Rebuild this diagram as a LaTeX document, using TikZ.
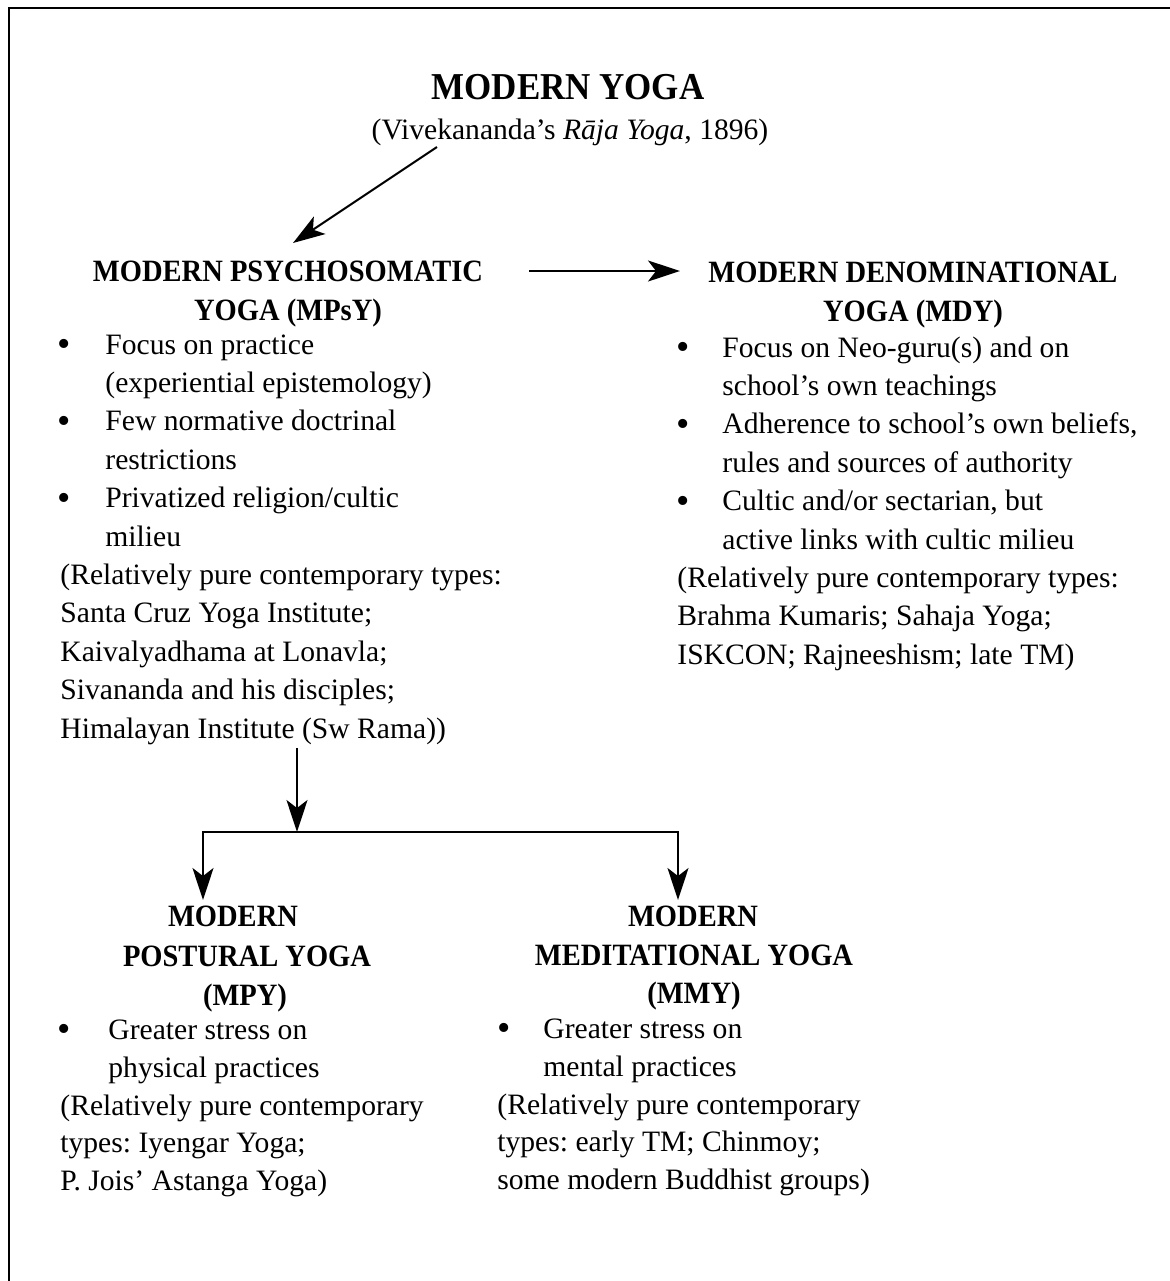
\documentclass[tikz,border=0pt]{standalone}
\usepackage{fontspec}
\setmainfont{Liberation Serif}
\newfontfamily\headfont[FakeStretch=0.92]{Liberation Serif}
\usetikzlibrary{arrows.meta,calc}
\frenchspacing
\tikzset{
  body/.style={anchor=base west, inner sep=0pt, font=\fontsize{14.8}{18}\selectfont},
  blt/.style={anchor=base, inner sep=0pt, font=\fontsize{14.8}{18}\selectfont},
  dot/.style={anchor=base, inner sep=0pt, yshift=-1.2pt, font=\fontsize{19}{20}\selectfont},
  head/.style={anchor=base, inner sep=0pt, font=\headfont\bfseries\fontsize{15.5}{18}\selectfont},
  bighead/.style={anchor=base, inner sep=0pt, font=\headfont\bfseries\fontsize{19}{22}\selectfont},
  arr/.style={line width=1pt, -{Stealth[length=16pt,width=10.5pt,inset=4pt]}},
  frame/.style={line width=1.1pt},
}
\begin{document}
\begin{tikzpicture}[x=0.5pt,y=-0.5pt]
\useasboundingbox (0,0) rectangle (1170,1281);
\draw[frame] (9,1281) -- (9,8) -- (1170,8);

% top
\node[bighead] (title) at (568,99) {MODERN YOGA};
\node[blt] (sub) at (570,139) {(Vivekananda’s \textit{Rāja Yoga}, 1896)};

% MPsY
\node[head] (pA1) at (288,281) {MODERN PSYCHOSOMATIC};
\node[head] (pA2) at (288,320) {YOGA (MPsY)};
\node[dot]  (bA1) at (64,354) {•};
\node[body] (lA1) at (105,354) {Focus on practice};
\node[body] (lA2) at (105,392.4) {(experiential epistemology)};
\node[dot]  (bA2) at (64,430.8) {•};
\node[body] (lA3) at (105,430.8) {Few normative doctrinal};
\node[body] (lA4) at (105,469.2) {restrictions};
\node[dot]  (bA3) at (64,507.6) {•};
\node[body] (lA5) at (105,507.6) {Privatized religion/cultic};
\node[body] (lA6) at (105,546) {milieu};
\node[body] (lA7) at (60,584.4) {(Relatively pure contemporary types:};
\node[body] (lA8) at (60,622.8) {Santa Cruz Yoga Institute;};
\node[body] (lA9) at (60,661.2) {Kaivalyadhama at Lonavla;};
\node[body] (lA10) at (60,699.6) {Sivananda and his disciples;};
\node[body] (lA11) at (60,738) {Himalayan Institute (Sw Rama))};

% MDY
\node[head] (pB1) at (913,282) {MODERN DENOMINATIONAL};
\node[head] (pB2) at (913,321) {YOGA (MDY)};
\node[dot]  (bB1) at (683,357) {•};
\node[body] (lB1) at (722,357) {Focus on Neo-guru(s) and on};
\node[body] (lB2) at (722,395.4) {school’s own teachings};
\node[dot]  (bB2) at (683,433.8) {•};
\node[body] (lB3) at (722,433.8) {Adherence to school’s own beliefs,};
\node[body] (lB4) at (722,472.2) {rules and sources of authority};
\node[dot]  (bB3) at (683,510.6) {•};
\node[body] (lB5) at (722,510.6) {Cultic and/or sectarian, but};
\node[body] (lB6) at (722,549) {active links with cultic milieu};
\node[body] (lB7) at (677,587.4) {(Relatively pure contemporary types:};
\node[body] (lB8) at (677,625.8) {Brahma Kumaris; Sahaja Yoga;};
\node[body] (lB9) at (677,664.2) {ISKCON; Rajneeshism; late TM)};

% MPY
\node[head] (mA1) at (233,926) {MODERN};
\node[head] (mA2) at (247,966) {POSTURAL YOGA};
\node[head] (mA3) at (245,1005) {(MPY)};
\node[dot]  (bC1) at (64,1039) {•};
\node[body] (lC1) at (108,1039) {Greater stress on};
\node[body] (lC2) at (108,1077) {physical practices};
\node[body] (lC3) at (60,1115) {(Relatively pure contemporary};
\node[body] (lC4) at (60,1152) {types: Iyengar Yoga;};
\node[body] (lC5) at (60,1190) {P. Jois’ Astanga Yoga)};

% MMY
\node[head] (mB1) at (693,926) {MODERN};
\node[head] (mB2) at (694,965) {MEDITATIONAL YOGA};
\node[head] (mB3) at (694,1003) {(MMY)};
\node[dot]  (bD1) at (504,1038) {•};
\node[body] (lD1) at (543,1038) {Greater stress on};
\node[body] (lD2) at (543,1076) {mental practices};
\node[body] (lD3) at (497,1114) {(Relatively pure contemporary};
\node[body] (lD4) at (497,1151) {types: early TM; Chinmoy;};
\node[body] (lD5) at (497,1189) {some modern Buddhist groups)};

% connector ends
\coordinate (s1) at ($(sub.base)+(-133,8)$);
\coordinate (e1) at ($(pA1.base)+(5,-38)$);
\coordinate (s2) at ($(pA1.base)+(241,-10)$);
\coordinate (e2) at ($(pB1.base)+(-233,-11)$);
\coordinate (s3) at ($(lA11.base west)+(237,10)$);
\coordinate (j)  at ($(lA11.base west)+(237,94)$);
\coordinate (eA) at ($(mA1.base)+(-30,-26)$);
\coordinate (eB) at ($(mB1.base)+(-15,-26)$);

\draw[arr] (s1) -- (e1);
\draw[arr] (s2) -- (e2);
\draw[arr] (s3) -- (j);
\draw[arr] (j) -| (eA);
\draw[arr] (j) -| (eB);
\end{tikzpicture}
\end{document}
